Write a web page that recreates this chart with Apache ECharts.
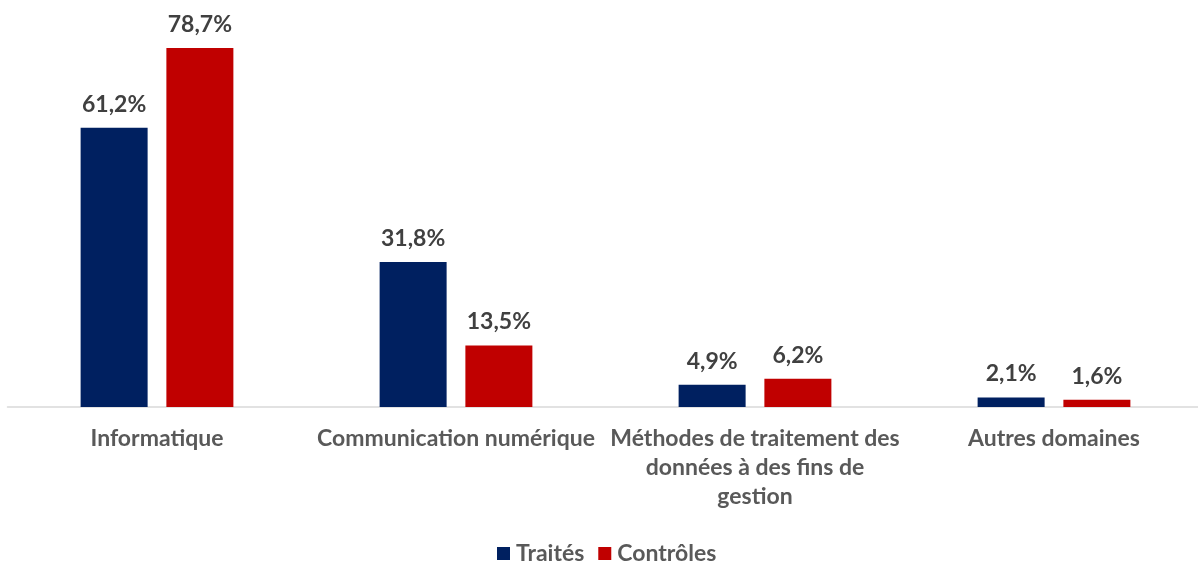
<!DOCTYPE html>
<html><head><meta charset="utf-8">
<script src="https://cdn.jsdelivr.net/npm/echarts@6/dist/echarts.min.js"></script>
<style>html,body{margin:0;padding:0;background:#fff}#c{width:1198px;height:565px}</style>
</head><body><div id="c"></div>
<script>
var categories = ['Informatique', 'Communication numérique', 'Méthodes de traitement des\ndonnées à des fins de\ngestion', 'Autres domaines'];
var traites = [61.2, 31.8, 4.9, 2.1];
var controles = [78.7, 13.5, 6.2, 1.6];
var seriesNames = ['Traités', 'Contrôles'];
var FONT = 'Lato';
function fmt(p){ return p.value.toFixed(1).replace('.', ',') + '%'; }
var chart = echarts.init(document.getElementById('c'), null, {renderer:'canvas'});
var labelStyle = {show:true, position:'top', distance:12, formatter:fmt, fontFamily:FONT, fontWeight:'bold', fontSize:23, color:'#404040'};
chart.setOption({
  animation:false,
  grid:{left:7.5, right:-5.5, top:42, bottom:158, containLabel:false, outerBoundsMode:'none'},
  legend:{bottom:0, left:497, padding:0, itemWidth:13, itemHeight:13, itemGap:14, icon:'rect',
    textStyle:{fontFamily:FONT, fontWeight:'bold', fontSize:23, color:'#595959', padding:[0,0,0,1]}, data:seriesNames},
  xAxis:{type:'category', data:categories,
    axisLine:{lineStyle:{color:'#d9d9d9', width:1.5}}, axisTick:{show:false},
    axisLabel:{interval:0, margin:17, fontFamily:FONT, fontWeight:'bold', fontSize:23, color:'#595959', lineHeight:29, verticalAlign:'top'}},
  yAxis:{type:'value', min:0, max:80, show:false, splitLine:{show:false}},
  series:[
    {name:seriesNames[0], type:'bar', data:traites, barWidth:67, barGap:'28%', itemStyle:{color:'#002060'}, label:labelStyle},
    {name:seriesNames[1], type:'bar', data:controles, barWidth:67, barGap:'28%', itemStyle:{color:'#C00000'}, label:labelStyle}
  ]
});
</script></body></html>
